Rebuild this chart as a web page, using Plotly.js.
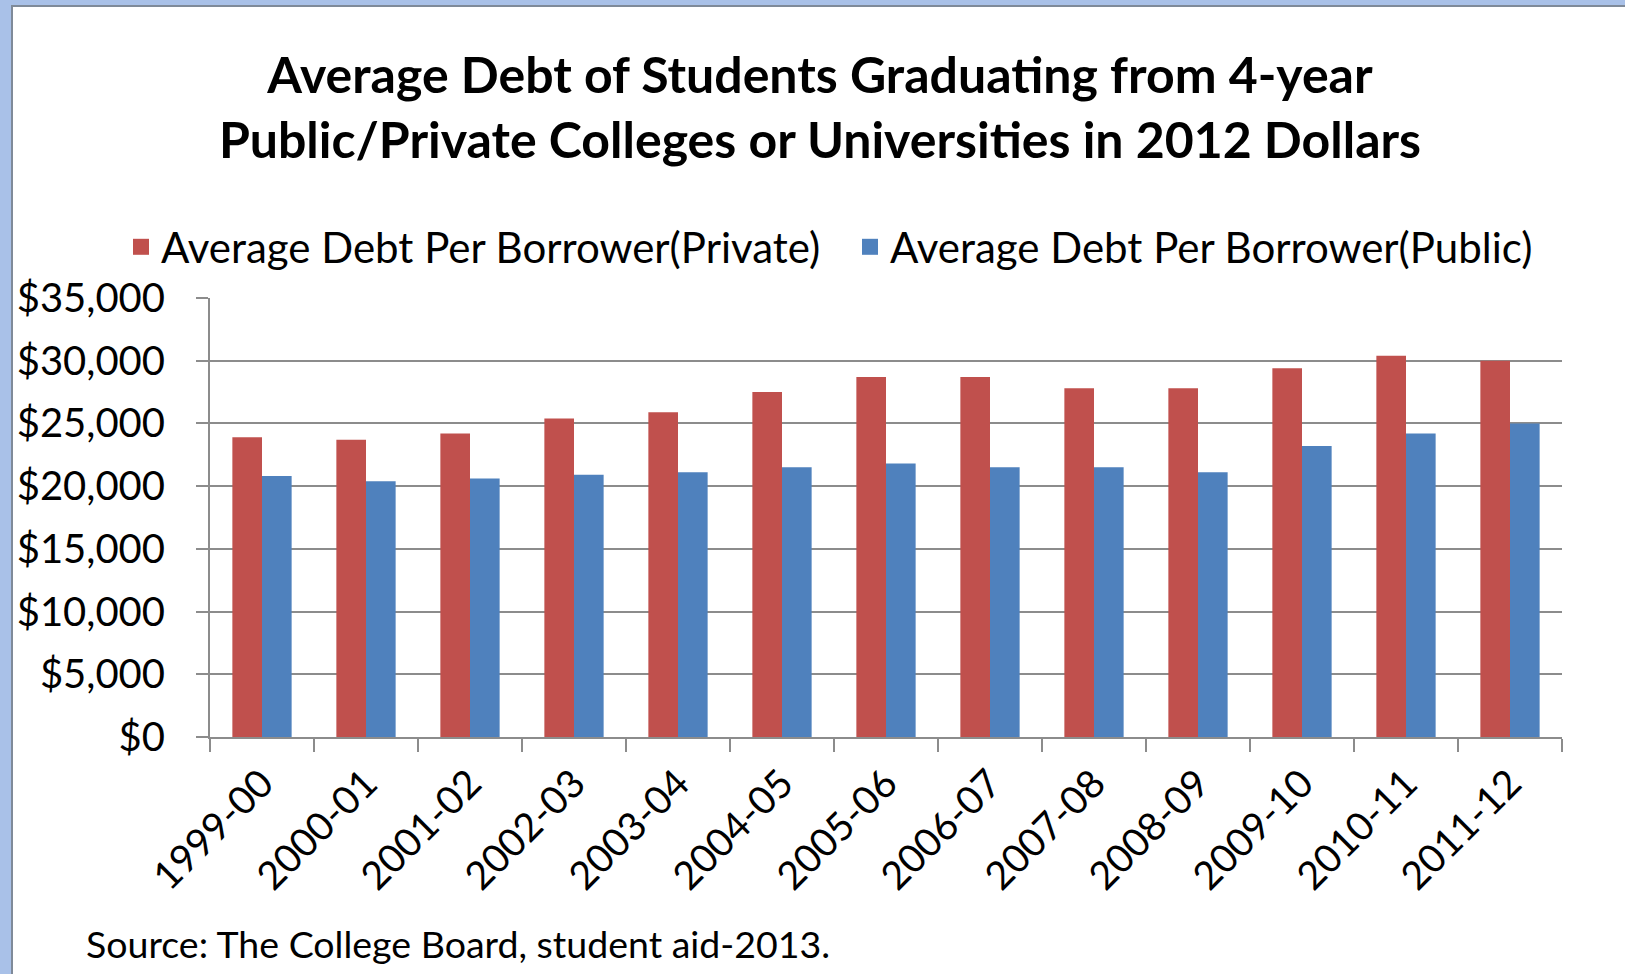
<!DOCTYPE html>
<html>
<head>
<meta charset="utf-8">
<script src="https://cdn.plot.ly/plotly-3.0.1.min.js"></script>
<style>
  html, body { margin: 0; padding: 0; width: 1625px; height: 974px; overflow: hidden; background: #a9c1e8; }
  #frame { position: absolute; left: 11px; top: 5px; width: 1614px; height: 969px; background: #ffffff; border-left: 2px solid #7f8a99; border-top: 2px solid #7f8a99; }
  #chart { position: absolute; left: 0; top: 0; width: 1614px; height: 969px; }
</style>
</head>
<body>
<div id="frame"><div id="chart"></div></div>
<script>
const years = ["1999-00","2000-01","2001-02","2002-03","2003-04","2004-05","2005-06","2006-07","2007-08","2008-09","2009-10","2010-11","2011-12"];
const privateDebt = [23900, 23700, 24200, 25400, 25900, 27500, 28700, 28700, 27800, 27800, 29400, 30400, 30000];
const publicDebt  = [20800, 20400, 20600, 20900, 21100, 21500, 21800, 21500, 21500, 21100, 23200, 24200, 25000];
const seriesNames = ["Average Debt Per Borrower(Private)", "Average Debt Per Borrower(Public)"];
const seriesColors = ["#c0504d", "#4f81bd"];
const yTicks = [0, 5000, 10000, 15000, 20000, 25000, 30000, 35000];
const yTickText = ["$0","$5,000","$10,000","$15,000","$20,000","$25,000","$30,000","$35,000"];

const FONT = "Lato, 'Open Sans', sans-serif";
const W = 1614, H = 969;
const M = { l: 197, r: 65, t: 291, b: 239, autoexpand: false };
const plotW = W - M.l - M.r, plotH = H - M.t - M.b;

const traces = [
  { type: "bar", name: seriesNames[0], x: years, y: privateDebt, marker: { color: seriesColors[0] }, showlegend: false },
  { type: "bar", name: seriesNames[1], x: years, y: publicDebt, marker: { color: seriesColors[1] }, showlegend: false },
  { type: "scatter", mode: "markers", name: seriesNames[0], x: [null], y: [null], legend: "legend", marker: { symbol: "square", size: 22, color: seriesColors[0] }, hoverinfo: "skip" },
  { type: "scatter", mode: "markers", name: seriesNames[1], x: [null], y: [null], legend: "legend2", marker: { symbol: "square", size: 22, color: seriesColors[1] }, hoverinfo: "skip" }
];

const legendCommon = {
  orientation: "h", xref: "container", yref: "container",
  xanchor: "left", y: 1 - 240/H, yanchor: "middle",
  font: { family: FONT, size: 42, color: "#000000" },
  itemwidth: 30, bgcolor: "rgba(0,0,0,0)"
};

const layout = {
  width: W, height: H,
  paper_bgcolor: "#ffffff", plot_bgcolor: "#ffffff",
  margin: M,
  font: { family: FONT, color: "#000000" },
  title: {
    text: "Average Debt of Students Graduating from 4-year<br>Public/Private Colleges or Universities in 2012 Dollars",
    font: { family: FONT, size: 50, color: "#000000", weight: "bold" },
    x: 0.5, xref: "container", xanchor: "center",
    y: 1 - 86/H, yref: "container", yanchor: "middle"
  },
  barmode: "group",
  bargap: 0.43,
  bargroupgap: 0,
  showlegend: true,
  legend: Object.assign({}, legendCommon, { x: 108/W }),
  legend2: Object.assign({}, legendCommon, { x: 837/W }),
  xaxis: {
    type: "category",
    tickangle: -45,
    tickfont: { family: FONT, size: 39, color: "#000000" },
    ticks: "outside", tickson: "boundaries", ticklen: 13, tickwidth: 2, tickcolor: "#8c8c8c",
    showline: true, linecolor: "#8c8c8c", linewidth: 2,
    showgrid: false, zeroline: false,
    ticklabelstandoff: 6
  },
  yaxis: {
    range: [0, 35000],
    tickmode: "array", tickvals: yTicks, ticktext: yTickText,
    tickfont: { family: FONT, size: 40, color: "#000000" },
    ticks: "outside", ticklen: 12, tickwidth: 2, tickcolor: "#8c8c8c",
    showline: true, linecolor: "#8c8c8c", linewidth: 2,
    showgrid: true, gridcolor: "#8c8c8c", gridwidth: 2,
    zeroline: false,
    ticklabelstandoff: 23
  },
  annotations: [
    {
      text: "Source: The College Board, student aid-2013.",
      xref: "paper", yref: "paper",
      x: (71 - M.l) / plotW, xanchor: "left",
      y: ((H - M.b) - 936) / plotH, yanchor: "middle",
      showarrow: false,
      font: { family: FONT, size: 37.5, color: "#000000" }
    }
  ]
};

Plotly.newPlot("chart", traces, layout, { displayModeBar: false, staticPlot: true });
</script>
</body>
</html>
